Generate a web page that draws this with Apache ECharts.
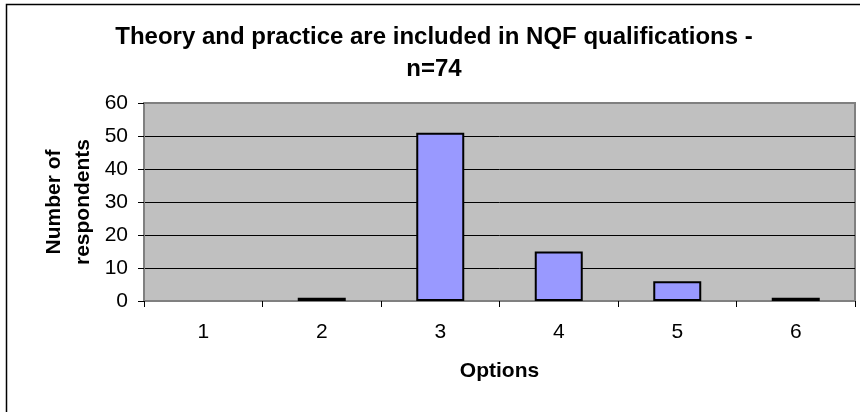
<!DOCTYPE html>
<html>
<head>
<meta charset="utf-8">
<script src="https://cdn.jsdelivr.net/npm/echarts@6/dist/echarts.min.js"></script>
<style>
html,body{margin:0;padding:0;background:#fff;}
#chart{width:860px;height:412px;}
</style>
</head>
<body>
<div id="chart"></div>
<script>
const titleText = 'Theory and practice are included in NQF qualifications -\nn=74';
const categories = ['1', '2', '3', '4', '5', '6'];
const respondents = [0, 1, 51, 15, 6, 1];
const yTicks = [0, 10, 20, 30, 40, 50, 60];
const xAxisName = 'Options';
const yAxisName = 'Number of\nrespondents';

const FONT = '"Liberation Sans", Arial, sans-serif';
const chart = echarts.init(document.getElementById('chart'), null, {renderer: 'canvas'});

const barData = respondents.map(v => v === 0 ? {value: v, itemStyle: {borderWidth: 0}} : v);
const splitColors = yTicks.map((t, i) => (i === 0 || i === yTicks.length - 1) ? '#808080' : '#000000');

chart.setOption({
  backgroundColor: '#ffffff',
  animation: false,
  title: {
    text: titleText,
    left: 434,
    top: 21,
    padding: 0,
    textAlign: 'center',
    textStyle: {fontFamily: FONT, fontSize: 24, fontWeight: 'bold', color: '#000', lineHeight: 32}
  },
  graphic: [{
    type: 'rect',
    shape: {x: 6.5, y: 4.5, width: 900, height: 500},
    style: {fill: 'none', stroke: '#000', lineWidth: 1.5},
    silent: true,
    z: 100
  }],
  grid: {
    left: 144, right: 5, top: 103, bottom: 111,
    show: true,
    backgroundColor: '#C0C0C0',
    borderColor: '#808080',
    borderWidth: 2
  },
  xAxis: {
    type: 'category',
    data: categories,
    name: xAxisName,
    nameLocation: 'middle',
    nameGap: 60,
    nameMoveOverlap: false,
    nameTextStyle: {fontFamily: FONT, fontSize: 21, fontWeight: 'bold', color: '#000'},
    axisLine: {show: true, lineStyle: {color: '#808080', width: 2}},
    axisTick: {show: true, alignWithLabel: false, length: 6, lineStyle: {color: '#000', width: 1}},
    axisLabel: {fontFamily: FONT, fontSize: 21, color: '#000', margin: 21},
    splitLine: {show: false}
  },
  yAxis: {
    type: 'value',
    min: 0, max: 60, interval: 10,
    name: yAxisName,
    nameLocation: 'middle',
    nameRotate: 90,
    nameGap: 46,
    nameMoveOverlap: false,
    nameTextStyle: {fontFamily: FONT, fontSize: 21, fontWeight: 'bold', color: '#000', lineHeight: 29, align: 'center'},
    axisLine: {show: true, lineStyle: {color: '#808080', width: 2}},
    axisTick: {show: true, length: 6, lineStyle: {color: '#000', width: 1}},
    axisLabel: {fontFamily: FONT, fontSize: 21, color: '#000', margin: 16},
    splitLine: {show: true, lineStyle: {color: splitColors, width: 1}}
  },
  series: [{
    type: 'bar',
    data: barData,
    barWidth: 48,
    itemStyle: {color: '#9999FF', borderColor: '#000', borderWidth: 2}
  }]
});
</script>
</body>
</html>
